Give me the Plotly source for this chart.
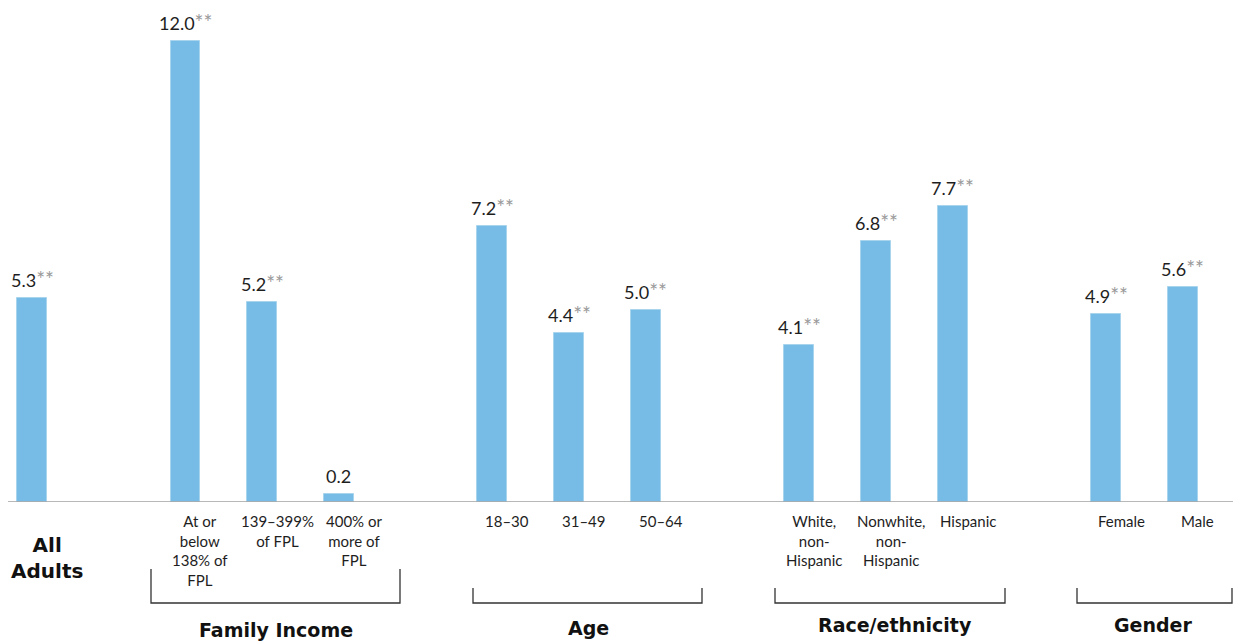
import plotly.graph_objects as go

# Data: share of adults (%) by subgroup
categories = [
    "All Adults",
    "At or<br>below<br>138% of<br>FPL", "139–399%<br>of FPL", "400% or<br>more of<br>FPL",
    "18–30", "31–49", "50–64",
    "White,<br>non-<br>Hispanic", "Nonwhite,<br>non-<br>Hispanic", "Hispanic",
    "Female", "Male",
]
values = [5.3, 12.0, 5.2, 0.2, 7.2, 4.4, 5.0, 4.1, 6.8, 7.7, 4.9, 5.6]
significant = [True, True, True, False, True, True, True, True, True, True, True, True]
# slot index of each bar along the x axis (gaps separate the groups)
slots = [0, 2, 3, 4, 6, 7, 8, 10, 11, 12, 14, 15]

group_names = ["Family Income", "Age", "Race/ethnicity", "Gender"]

W, H = 1233, 641
PLOT_H = 502          # pixel row of the baseline
SLOT_PX = 76.73       # pixel width of one slot
X0_PX = 32            # pixel column of slot 0

def px_to_x(px):
    return (px - X0_PX) / SLOT_PX

def py_to_paper(py):
    return (PLOT_H - py) / PLOT_H

BLUE = "#77bce6"
DARK = "#1e1e1e"
GREY = "#9a9a9a"
FONT = "Lato, 'Open Sans', sans-serif"
BOLD_FONT = "'DejaVu Sans', Verdana, sans-serif"

fig = go.Figure()
fig.add_trace(go.Bar(
    x=slots, y=values, width=0.39,
    marker=dict(color=BLUE, line=dict(color="#a9d4ee", width=1)),
    hoverinfo="skip", showlegend=False,
))

annotations = []
# value labels above the bars; ** marks a significant change
for s, v, sig in zip(slots, values, significant):
    txt = f"{v:.1f}"
    if sig:
        txt += f"<span style='color:{GREY};font-size:21px'>**</span>"
    annotations.append(dict(
        x=s, y=v, xref="x", yref="y", text=txt, showarrow=False,
        yanchor="bottom", yshift=5, font=dict(family=FONT, size=18, color=DARK),
    ))

# category labels under the bars
for s, c in zip(slots[1:], categories[1:]):
    annotations.append(dict(
        x=s, y=0, xref="x", yref="paper", text=c, showarrow=False,
        xanchor="center", yanchor="top", xshift=15, yshift=-8,
        font=dict(family=FONT, size=15, color=DARK),
    ))

annotations.append(dict(
    x=px_to_x(47), y=py_to_paper(558), xref="x", yref="paper",
    text="<b>All<br>Adults</b>", showarrow=False, yanchor="middle",
    font=dict(family=BOLD_FONT, size=20, color="#111111"),
))

# group brackets and titles
bracket_px = [(151, 400, 569), (473, 702, 588), (775, 1005, 588), (1077, 1232, 588)]
title_px = [(276, 630), (588, 628), (895, 625), (1153, 625)]
BRACKET_BOTTOM = 603
shapes = [dict(
    type="line", xref="x", yref="y", x0=px_to_x(8), x1=px_to_x(1233), y0=0, y1=0,
    line=dict(color="#a0a0a0", width=1.5),
)]
for (l, r, top), name, (tx, ty) in zip(bracket_px, group_names, title_px):
    xl, xr = px_to_x(l), px_to_x(r)
    yt, yb = py_to_paper(top), py_to_paper(BRACKET_BOTTOM)
    shapes.append(dict(
        type="path", xref="x", yref="paper",
        path=f"M {xl},{yt} L {xl},{yb} L {xr},{yb} L {xr},{yt}",
        line=dict(color="#333333", width=1.3),
    ))
    annotations.append(dict(
        x=px_to_x(tx), y=py_to_paper(ty), xref="x", yref="paper",
        text=f"<b>{name}</b>", showarrow=False, yanchor="middle",
        font=dict(family=BOLD_FONT, size=19, color="#111111"),
    ))

fig.update_layout(
    width=W, height=H,
    margin=dict(l=0, r=0, t=0, b=H - PLOT_H),
    paper_bgcolor="white", plot_bgcolor="white",
    xaxis=dict(range=[px_to_x(0), px_to_x(W)], visible=False, fixedrange=True),
    yaxis=dict(range=[0, PLOT_H / 38.4], visible=False, fixedrange=True),
    annotations=annotations, shapes=shapes,
    bargap=0,
)

fig.write_html("out.html")
